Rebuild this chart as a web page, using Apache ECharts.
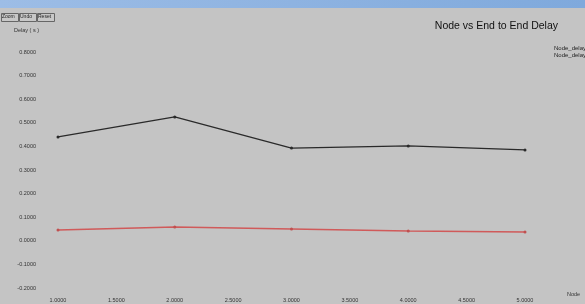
<!DOCTYPE html>
<html><head><meta charset="utf-8">
<script src="https://cdn.jsdelivr.net/npm/echarts@6/dist/echarts.min.js"></script>
<style>html,body{margin:0;padding:0;background:#c4c4c4}#c{width:585px;height:304px}</style>
</head><body><div id="c"></div>
<script>
const nodes = [1, 2, 3, 4, 5];
const delayA = [0.44, 0.525, 0.393, 0.402, 0.385];
const delayB = [0.046, 0.058, 0.05, 0.042, 0.037];
const seriesNames = ['Node_delay1', 'Node_delay2'];
const titleText = 'Node vs End to End Delay';
const yName = 'Delay ( s )';
const xName = 'Node';
const buttons = ['Zoom', 'Undo', 'Reset'];

const chart = echarts.init(document.getElementById('c'));
const graphic = [
  {type:'rect', left:0, top:0, shape:{width:585, height:8},
   style:{fill:new echarts.graphic.LinearGradient(0,0,1,0,[{offset:0,color:'#9dbde6'},{offset:1,color:'#7fa9dc'}])}, silent:true}
];
let bx = 1;
buttons.forEach(b => {
  graphic.push({type:'rect', left:bx, top:13, shape:{width:17, height:8},
    style:{fill:'#c8c8c8', stroke:'#666', lineWidth:1}});
  graphic.push({type:'text', left:bx+1, top:14.5, style:{text:b, fontSize:5, fill:'#222', fontFamily:'Liberation Sans'}});
  bx += 18;
});
graphic.push({type:'text', left:14, top:27, style:{text:yName, fontSize:5.5, fill:'#333', fontFamily:'Liberation Sans'}});
graphic.push({type:'text', left:567, top:291, style:{text:xName, fontSize:5.5, fill:'#333', fontFamily:'Liberation Sans'}});

chart.setOption({
  backgroundColor:'#c4c4c4',
  animation:false,
  title:{text:titleText, right:22, top:16, textStyle:{fontSize:10.5, fontWeight:'normal', color:'#111', fontFamily:'Liberation Sans'}},
  legend:{orient:'vertical', left:549, top:40, itemWidth:6, itemHeight:2, itemGap:1, align:'right',
    textStyle:{fontSize:6, color:'#222', fontFamily:'Liberation Sans'}, icon:'rect',
    data:seriesNames},
  graphic:graphic,
  grid:{left:58, right:60, top:52, bottom:16},
  xAxis:{type:'value', min:1, max:5, interval:0.5,
    axisLine:{show:false}, axisTick:{show:false}, splitLine:{show:false},
    axisLabel:{fontSize:5.5, color:'#333', margin:9, formatter:v=>v.toFixed(4), fontFamily:'Liberation Sans'}},
  yAxis:{type:'value', min:-0.2, max:0.8, interval:0.1,
    axisLine:{show:false}, axisTick:{show:false}, splitLine:{show:false},
    axisLabel:{fontSize:5.5, color:'#333', margin:22, formatter:v=>v.toFixed(4), fontFamily:'Liberation Sans'}},
  series:[
    {name:seriesNames[0], type:'line', data:nodes.map((n,i)=>[n,delayA[i]]),
     symbol:'circle', symbolSize:3, lineStyle:{color:'#2a2a2a', width:1.3}, itemStyle:{color:'#2a2a2a'}},
    {name:seriesNames[1], type:'line', data:nodes.map((n,i)=>[n,delayB[i]]),
     symbol:'circle', symbolSize:3, lineStyle:{color:'#d05a5a', width:1.5}, itemStyle:{color:'#c05050'}}
  ]
});
</script></body></html>
